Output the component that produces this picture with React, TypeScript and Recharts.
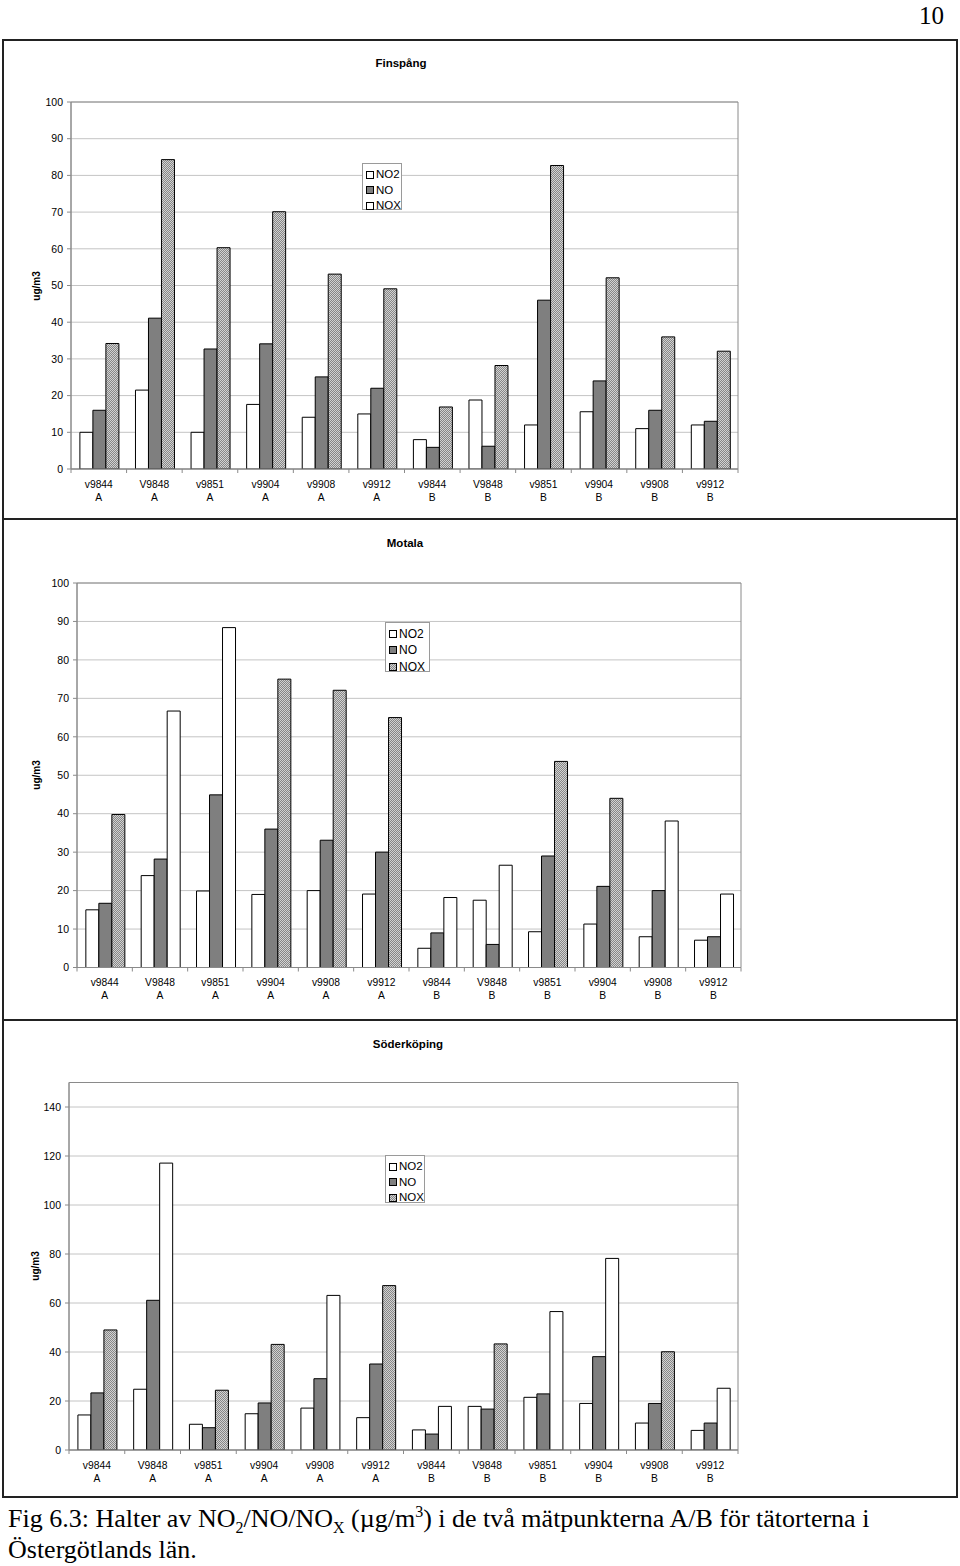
import React from 'react';
import { BarChart, Bar, XAxis, YAxis, CartesianGrid, Cell, Legend, ReferenceArea } from 'recharts';

const categories = ['v9844 A', 'V9848 A', 'v9851 A', 'v9904 A', 'v9908 A', 'v9912 A', 'v9844 B', 'V9848 B', 'v9851 B', 'v9904 B', 'v9908 B', 'v9912 B'];
const seriesNames = ['NO2', 'NO', 'NOX'];

const finspangNO2 = [10, 21.5, 10, 17.6, 14.1, 15, 8, 18.8, 12, 15.6, 11, 12];
const finspangNO = [16, 41.1, 32.7, 34.1, 25.1, 22, 5.9, 6.2, 46, 24, 16, 13];
const finspangNOX = [34.2, 84.3, 60.3, 70.1, 53.1, 49.1, 16.9, 28.2, 82.7, 52.1, 36, 32.1];
const finspangNoxShaded = [true, true, true, true, true, true, true, true, true, true, true, true];
const finspangTicks = [0, 10, 20, 30, 40, 50, 60, 70, 80, 90, 100];

const motalaNO2 = [15, 23.9, 19.9, 19, 20, 19.1, 5, 17.5, 9.3, 11.3, 8, 7.1];
const motalaNO = [16.7, 28.2, 44.9, 36, 33.1, 30, 9, 6, 29, 21.1, 20, 8];
const motalaNOX = [39.8, 66.7, 88.4, 75, 72.1, 65, 18.2, 26.6, 53.6, 44, 38.1, 19.1];
const motalaNoxShaded = [true, false, false, true, true, true, false, false, true, true, false, false];
const motalaTicks = [0, 10, 20, 30, 40, 50, 60, 70, 80, 90, 100];

const soderNO2 = [14.3, 24.8, 10.5, 14.8, 17.1, 13.2, 8.2, 17.8, 21.5, 19, 11, 8];
const soderNO = [23.3, 61.1, 9.1, 19.2, 29.1, 35.1, 6.5, 16.7, 22.9, 38.1, 19, 11];
const soderNOX = [49, 117.1, 24.4, 43.1, 63.1, 67.1, 17.8, 43.3, 56.5, 78.2, 40.1, 25.2];
const soderNoxShaded = [true, false, true, true, false, true, false, true, false, false, true, false];
const soderTicks = [0, 20, 40, 60, 80, 100, 120, 140];

const W = 960;
const FONT = '"Liberation Sans", Arial, sans-serif';
const SERIF = '"Liberation Serif", "Times New Roman", serif';
const AXIS = '#8a8a8a';
const GRID = '#c4c4c4';
const NO_FILL = '#7f7f7f';
const X_AXIS_H = 40;
const Y_AXIS_W = 40;

type L = {
  top: number; height: number; left: number; right: number; plotTop: number; plotBottom: number;
  legendLeft: number; legendTop: number; legendW: number; legendH: number; legendRow: number; legendFont: number;
  titleX: number; titleY: number; labelX: number;
};

function makeXTick(n: number, band: number) {
  return (props: any) => {
    const { x, y, payload, index } = props;
    const parts = String(payload.value).split(' ');
    const half = payload && typeof payload.offset === 'number' && payload.offset > 0 ? payload.offset : band / 2;
    const axisY = y - 6;
    return (
      <g>
        <line x1={x - half} x2={x - half} y1={axisY} y2={axisY + 4} stroke={AXIS} />
        {index === n - 1 ? <line x1={x + half} x2={x + half} y1={axisY} y2={axisY + 4} stroke={AXIS} /> : null}
        <text x={x} y={y} textAnchor="middle" fontSize={10.3} fill="#000" fontFamily={FONT}>
          <tspan x={x} dy={12.6}>{parts[0]}</tspan>
          <tspan x={x} dy={13}>{parts[1]}</tspan>
        </text>
      </g>
    );
  };
}

function Swatch({ fill }: { fill: string }) {
  return (
    <svg width={8} height={8} style={{ display: 'block', marginRight: 2 }}>
      <rect x={0.5} y={0.5} width={7} height={7} fill={fill} stroke="#000" strokeWidth={1} />
    </svg>
  );
}

function Chart(props: {
  title: string; no2: number[]; no: number[]; nox: number[]; shaded: boolean[]; ticks: number[]; yMax: number;
  layout: L; legendNoxShaded: boolean;
}) {
  const { title, no2, no, nox, shaded, ticks, yMax, layout: l, legendNoxShaded } = props;
  const data = categories.map((c, i) => ({ cat: c, no2: no2[i], no: no[i], nox: nox[i] }));
  const margin = {
    top: l.plotTop - l.top,
    right: W - l.right,
    left: l.left - Y_AXIS_W,
    bottom: l.top + l.height - l.plotBottom - X_AXIS_H,
  };
  const band = (l.right - l.left) / categories.length;
  const legendFills = ['#ffffff', NO_FILL, legendNoxShaded ? 'url(#noxPattern)' : '#ffffff'];
  const renderLegend = () => (
    <div
      style={{
        width: l.legendW, height: l.legendH, boxSizing: 'border-box', border: '1px solid #9a9a9a', background: '#fff',
        padding: '3px 0 0 3px', fontFamily: FONT, fontSize: l.legendFont, color: '#000',
      }}
    >
      {seriesNames.map((s, i) => (
        <div key={s} style={{ display: 'flex', alignItems: 'center', height: l.legendRow, lineHeight: `${l.legendRow}px` }}>
          <Swatch fill={legendFills[i]} />
          <span>{s}</span>
        </div>
      ))}
    </div>
  );
  return (
    <div style={{ position: 'absolute', left: 0, top: l.top, width: W, height: l.height }}>
      <div
        style={{
          position: 'absolute', left: l.titleX, top: l.titleY - l.top, transform: 'translate(-50%, -50%)',
          fontFamily: FONT, fontWeight: 'bold', fontSize: 11.5, whiteSpace: 'nowrap', color: '#000',
        }}
      >
        {title}
      </div>
      <div
        style={{
          position: 'absolute', left: l.labelX, top: (l.plotTop + l.plotBottom) / 2 - l.top,
          transform: 'translate(-50%, -50%) rotate(-90deg)', fontFamily: FONT, fontWeight: 'bold', fontSize: 10,
          whiteSpace: 'nowrap', color: '#000',
        }}
      >
        ug/m3
      </div>
      <BarChart width={W} height={l.height} data={data} margin={margin} barCategoryGap="16%" barGap={0}>
        <CartesianGrid horizontal vertical={false} stroke={GRID} strokeWidth={1} />
        <ReferenceArea y1={0} y2={yMax} fill="none" stroke={AXIS} strokeWidth={1} ifOverflow="visible" />
        <XAxis
          dataKey="cat"
          height={X_AXIS_H}
          interval={0}
          axisLine={{ stroke: AXIS }}
          tickLine={false}
          tickSize={4}
          tickMargin={2}
          tick={makeXTick(categories.length, band)}
        />
        <YAxis
          width={Y_AXIS_W}
          domain={[0, yMax]}
          ticks={ticks}
          interval={0}
          allowDataOverflow
          axisLine={{ stroke: AXIS }}
          tickLine={{ stroke: AXIS }}
          tickSize={4}
          tickMargin={4}
          tick={{ fontSize: 10.5, fill: '#000', fontFamily: FONT }}
        />
        <Legend
          layout="vertical"
          align="center"
          verticalAlign="middle"
          content={renderLegend}
          wrapperStyle={{ left: l.legendLeft, top: l.legendTop - l.top, width: l.legendW, height: l.legendH }}
        />
        <Bar dataKey="no2" name="NO2" fill="#ffffff" stroke="#000" strokeWidth={1} isAnimationActive={false} />
        <Bar dataKey="no" name="NO" fill={NO_FILL} stroke="#000" strokeWidth={1} isAnimationActive={false} />
        <Bar dataKey="nox" name="NOX" fill="url(#noxPattern)" stroke="#000" strokeWidth={1} isAnimationActive={false}>
          {data.map((d, i) => (
            <Cell key={d.cat} fill={shaded[i] ? 'url(#noxPattern)' : '#ffffff'} />
          ))}
        </Bar>
      </BarChart>
    </div>
  );
}

const finspangLayout: L = {
  top: 41, height: 477, left: 71, right: 738, plotTop: 102, plotBottom: 469,
  legendLeft: 362, legendTop: 163, legendW: 40, legendH: 47, legendRow: 15.5, legendFont: 11.5,
  titleX: 401, titleY: 63, labelX: 36,
};
const motalaLayout: L = {
  top: 521, height: 498, left: 77, right: 741, plotTop: 583, plotBottom: 967.5,
  legendLeft: 385, legendTop: 622, legendW: 45, legendH: 50, legendRow: 16.3, legendFont: 12,
  titleX: 405, titleY: 543, labelX: 36,
};
const soderLayout: L = {
  top: 1022, height: 474, left: 69, right: 738, plotTop: 1082.5, plotBottom: 1450,
  legendLeft: 385, legendTop: 1155, legendW: 40, legendH: 48, legendRow: 15.5, legendFont: 11.5,
  titleX: 408, titleY: 1044, labelX: 35,
};

const subStyle: React.CSSProperties = { fontSize: 16, lineHeight: 0 };

export default function App() {
  return (
    <div style={{ position: 'absolute', left: 0, top: 0, width: W, height: 1566, background: '#fff', overflow: 'hidden' }}>
      <svg width={0} height={0} style={{ position: 'absolute' }}>
        <defs>
          <pattern id="noxPattern" patternUnits="userSpaceOnUse" width={2} height={2}>
            <rect x={0} y={0} width={2} height={2} fill="#d2d2d2" />
            <rect x={0} y={0} width={1} height={1} fill="#878787" />
            <rect x={1} y={1} width={1} height={1} fill="#878787" />
          </pattern>
        </defs>
      </svg>
      <div style={{ position: 'absolute', right: 16, top: 2, fontFamily: SERIF, fontSize: 25, color: '#000' }}>10</div>
      <div style={{ position: 'absolute', left: 2, top: 39, width: 956, height: 1459, boxSizing: 'border-box', border: '2px solid #222' }} />
      <div style={{ position: 'absolute', left: 2, top: 518, width: 956, height: 2, background: '#222' }} />
      <div style={{ position: 'absolute', left: 2, top: 1019, width: 956, height: 2, background: '#222' }} />
      <Chart title="Finspång" no2={finspangNO2} no={finspangNO} nox={finspangNOX} shaded={finspangNoxShaded}
        ticks={finspangTicks} yMax={100} layout={finspangLayout} legendNoxShaded={false} />
      <Chart title="Motala" no2={motalaNO2} no={motalaNO} nox={motalaNOX} shaded={motalaNoxShaded}
        ticks={motalaTicks} yMax={100} layout={motalaLayout} legendNoxShaded={true} />
      <Chart title="Söderköping" no2={soderNO2} no={soderNO} nox={soderNOX} shaded={soderNoxShaded}
        ticks={soderTicks} yMax={150} layout={soderLayout} legendNoxShaded={true} />
      <div style={{ position: 'absolute', left: 8, top: 1503, fontFamily: SERIF, fontSize: 26, lineHeight: '31px', color: '#000', whiteSpace: 'nowrap' }}>
        Fig 6.3: Halter av NO<sub style={subStyle}>2</sub>/NO/NO<sub style={subStyle}>X</sub> (µg/m<sup style={subStyle}>3</sup>) i de två mätpunkterna A/B för tätorterna i
        <br />
        Östergötlands län.
      </div>
    </div>
  );
}
